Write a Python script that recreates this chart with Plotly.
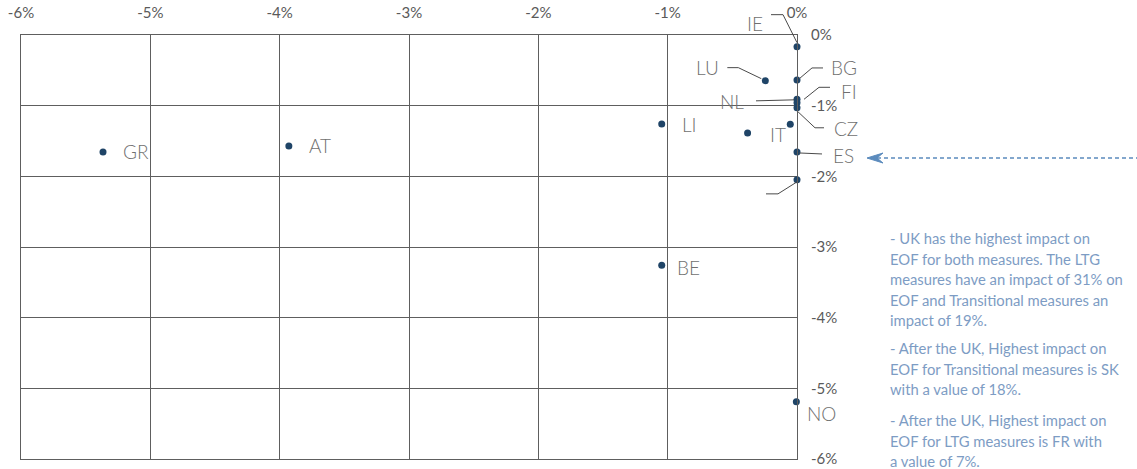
import plotly.graph_objects as go

# data: country code, x (LTG impact, %), y (Transitional impact, %)
countries = ["IE", "LU", "BG", "FI", "NL", "CZ", "LI", "IT", "", "ES", "", "GR", "AT", "BE", "NO"]
x_vals = [0.0, -0.245, 0.0, 0.0, 0.0, 0.0, -1.046, -0.382, -0.052, 0.0, 0.0, -5.366, -3.929, -1.046, -0.005]
y_vals = [-0.165, -0.646, -0.636, -0.91, -0.96, -1.03, -1.26, -1.386, -1.263, -1.655, -2.05, -1.655, -1.57, -3.26, -5.19]

tick_vals = [-6, -5, -4, -3, -2, -1, 0]
tick_text = ["-6%", "-5%", "-4%", "-3%", "-2%", "-1%", "0%"]

notes = [
    ["- UK has the highest impact on", "EOF for both measures. The LTG",
     "measures have an impact of 31% on", "EOF and Transitional measures an",
     "impact of 19%."],
    ["- After the UK, Highest impact on", "EOF for Transitional measures is SK",
     "with a value of 18%."],
    ["- After the UK, Highest impact on", "EOF for LTG measures is FR with",
     "a value of 7%."],
]

x_range = [-6, 0]
y_range = [-6, 0]

# label placement (pixel offsets from the point) and leader paths
label_offsets = {
    "IE": (-42, 23), "LU": (-58, 13), "BG": (47, 12), "FI": (52, 8),
    "NL": (-65, 1), "CZ": (49, -21), "LI": (28, 0), "IT": (30, -2),
    "ES": (46, -4), "GR": (33, 0), "AT": (31, 0), "BE": (27, -2), "NO": (25, -12),
}
leaders = {
    0: "M 0,4 L -14,32 L -26,32",
    1: "M -4,2 L -27,13 L -38,13",
    2: "M 2,1 L 15,12 L 26,12",
    3: "M 7,0 L 22,12 L 33,12",
    4: "M -3,3 L -41,2",
    5: "M 1,-4 L 18,-20 L 27,-20",
    9: "M 2,-1 L 25,-2",
    10: "M 0,-2 L -19,-14 L -31,-14",
}

grid_col = "#5e5e5e"
label_font = dict(family="Lato", size=19, color="#707070", weight=300)
tick_font = dict(family="Lato", size=15, color="#5a5a5a")
note_col = "#7d9cc4"

# plot box in pixels
L, T, W, H = 21, 35, 776, 424

fig = go.Figure()
fig.add_trace(go.Scatter(
    x=x_vals, y=y_vals, mode="markers",
    marker=dict(color="#1f4467", size=7),
    cliponaxis=False, hoverinfo="skip",
))

annotations = []
for i, c in enumerate(countries):
    if c:
        dx, dy = label_offsets[c]
        annotations.append(dict(
            x=x_vals[i], y=y_vals[i], text=c, showarrow=False,
            xshift=dx, yshift=dy, font=label_font,
        ))


def to_paper(v, rng):
    return (v - rng[0]) / (rng[1] - rng[0])


shapes = []
for i, p in leaders.items():
    # paper refs so leaders are not clipped at the plot edge
    shapes.append(dict(
        type="path", xref="paper", yref="paper", xsizemode="pixel", ysizemode="pixel",
        xanchor=to_paper(x_vals[i], x_range), yanchor=to_paper(y_vals[i], y_range), path=p,
        line=dict(color="#4a4a4a", width=1),
    ))

# dashed arrow pointing at ES
arrow_y = (T + H - 158) / H
shapes.append(dict(type="line", xref="paper", yref="paper",
                   x0=(877 - L) / W, x1=1.45, y0=arrow_y, y1=arrow_y,
                   line=dict(color="#5b8bbd", width=1.5, dash="4px,3px")))
shapes.append(dict(type="path", xref="paper", yref="paper",
                   xsizemode="pixel", ysizemode="pixel",
                   xanchor=(867 - L) / W, yanchor=arrow_y,
                   path="M 0,0 L 16,5 L 10,0 L 16,-5 Z",
                   fillcolor="#5b8bbd", line=dict(color="#5b8bbd", width=1)))

# side notes, one annotation per line
for para, y0 in zip(notes, [238, 348, 420]):
    for j, line in enumerate(para):
        py = y0 + j * 20.5
        annotations.append(dict(
            xref="paper", yref="paper", x=(888 - L) / W, y=(T + H - py) / H,
            xanchor="left", yanchor="middle", align="left", showarrow=False,
            text=line, font=dict(family="Lato", size=14.8, color=note_col),
        ))

fig.update_layout(
    width=1137, height=469,
    margin=dict(l=L, r=1137 - L - W, t=T, b=469 - T - H),
    paper_bgcolor="white", plot_bgcolor="white",
    showlegend=False,
    annotations=annotations, shapes=shapes,
    xaxis=dict(range=x_range, side="top", tickvals=tick_vals, ticktext=tick_text,
               showgrid=True, gridcolor=grid_col, gridwidth=1, zeroline=False,
               showline=True, mirror=True, linecolor=grid_col, linewidth=1,
               ticks="", tickfont=tick_font, ticklabelstandoff=10,
               automargin=False, fixedrange=True),
    yaxis=dict(range=y_range, side="right", tickvals=tick_vals, ticktext=tick_text,
               showgrid=True, gridcolor=grid_col, gridwidth=1, zeroline=False,
               showline=True, mirror=True, linecolor=grid_col, linewidth=1,
               ticks="", tickfont=tick_font, ticklabelstandoff=10,
               automargin=False, fixedrange=True),
)

# drop the browser's default 8px body margin so the figure sits at the top-left
fig.write_html("out.html", config={"displayModeBar": False},
               post_script="document.body.style.margin = '0px';")
